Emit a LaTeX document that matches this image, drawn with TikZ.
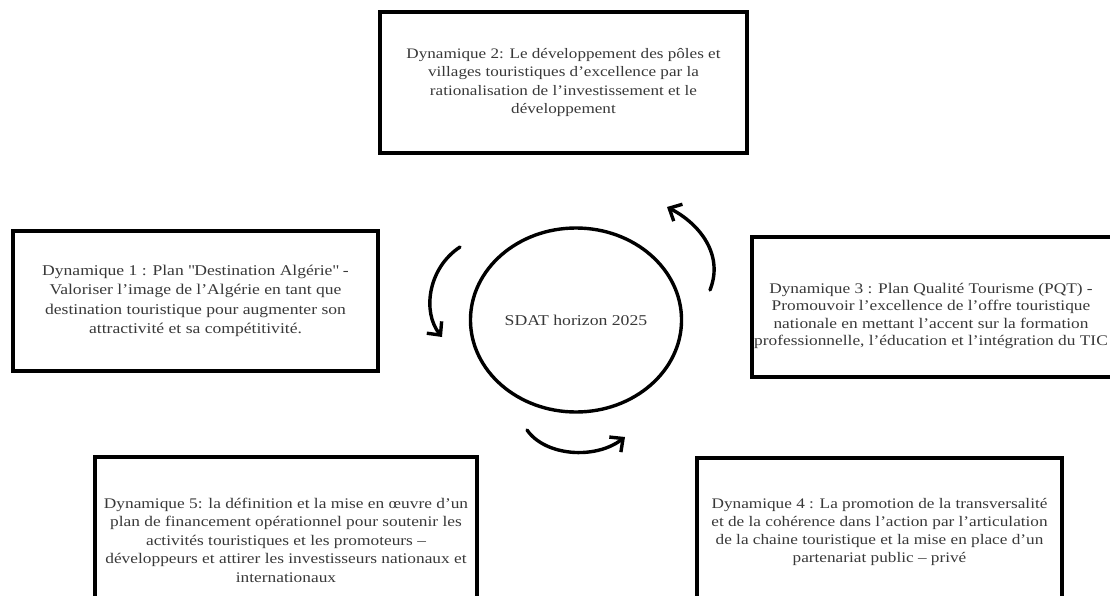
\documentclass[tikz,border=0pt]{standalone}
\usepackage{fontspec}
\setmainfont{Liberation Serif}[FakeStretch=1.18]
\usepackage{tikz}
\usetikzlibrary{arrows.meta, shapes.geometric}

\begin{document}
\begin{tikzpicture}[
  x=1pt, y=-1pt,
  dynbox/.style={draw, line width=3.4pt, align=center, text=black!78,
    inner sep=0pt, minimum width=365pt},
  dyntext/.style={align=center, text=black!78, inner sep=0pt},
  hub/.style={draw, ellipse, line width=3.4pt, minimum width=194pt,
    minimum height=184pt, text=black!78, font=\fontsize{15}{18}\selectfont},
  arr/.style={line width=3.4pt, line cap=round,
    -{Straight Barb[length=10pt, width=19pt, line width=3.4pt]}}
]
  \useasboundingbox (0,0) rectangle (1110,596);

  % Centre
  \node[hub] (sdat) at (576,320) {SDAT horizon 2025};

  % Dynamique 2 (top)
  \node[dynbox, minimum width=367pt, minimum height=141pt,
    font=\fontsize{14.5}{18.3}\selectfont] (dyn2) at (563.5,82.5)
    {Dynamique 2: Le développement des pôles et\\
     villages touristiques d'excellence par la\\
     rationalisation de l'investissement et le\\
     développement};

  % Dynamique 1 (left)
  \node[dynbox, minimum height=140pt,
    font=\fontsize{14.9}{19.5}\selectfont] (dyn1) at (195.5,301)
    {Dynamique 1 : Plan \textquotedbl Destination Algérie\textquotedbl\ -\\
     Valoriser l'image de l'Algérie en tant que\\
     destination touristique pour augmenter son\\
     attractivité et sa compétitivité.};

  % Dynamique 3 (right, cut by the page edge)
  \node[dynbox, minimum width=364pt, minimum height=140pt] (dyn3)
    at (934,307) {};
  \node[dyntext, font=\fontsize{14.7}{17.3}\selectfont] (dyn3txt)
    at ([yshift=-9pt, xshift=-3pt]dyn3.center)
    {Dynamique 3 : Plan Qualité Tourisme (PQT) -\\
     Promouvoir l'excellence de l'offre touristique\\
     nationale en mettant l'accent sur la formation\\
     professionnelle, l'éducation et l'intégration du TIC};

  % Dynamique 5 (bottom left, cut by the page edge)
  \node[dynbox, minimum width=382pt, minimum height=166pt,
    font=\fontsize{14.7}{18.5}\selectfont] (dyn5) at (286,540)
    {Dynamique 5: la définition et la mise en œuvre d'un\\
     plan de financement opérationnel pour soutenir les\\
     activités touristiques et les promoteurs –\\
     développeurs et attirer les investisseurs nationaux et\\
     internationaux};

  % Dynamique 4 (bottom right, cut by the page edge)
  \node[dynbox, minimum height=148pt,
    font=\fontsize{14.6}{17.7}\selectfont] (dyn4) at (879.5,532)
    {Dynamique 4 : La promotion de la transversalité\\
     et de la cohérence dans l'action par l'articulation\\
     de la chaine touristique et la mise en place d'un\\
     partenariat public – privé};

  % Arrow ends
  \coordinate (la) at (460,247);
  \coordinate (lb) at (442,337);
  \coordinate (ba) at (527,430);
  \coordinate (bb) at (625,437);
  \coordinate (ra) at (710,290);
  \coordinate (rb) at (667,207);

  % Arrows round the centre
  \draw[arr] (la) .. controls (428,268) and (422,312) .. (lb);
  \draw[arr] (ba) .. controls (545,456) and (595,460) .. (bb);
  \draw[arr] (ra) .. controls (724,255) and (700,224) .. (rb);
\end{tikzpicture}
\end{document}
